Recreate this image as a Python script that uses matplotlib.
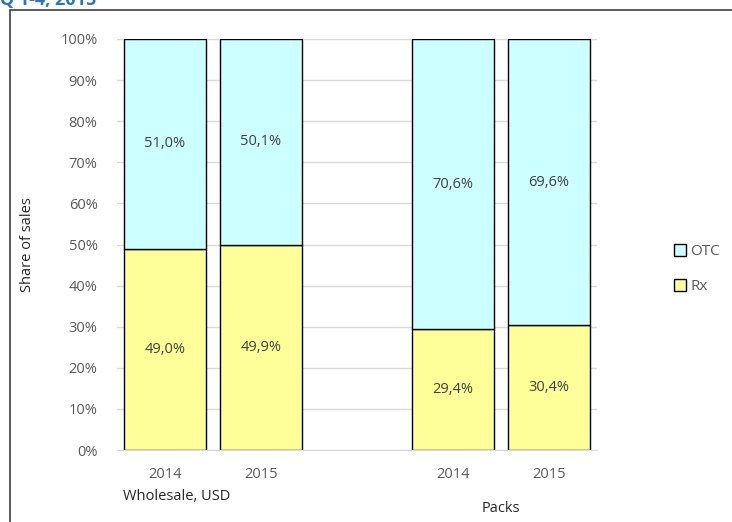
import matplotlib.pyplot as plt
from matplotlib.patches import Rectangle, Patch
from matplotlib.ticker import PercentFormatter

plt.rcParams['font.family'] = ['Open Sans', 'DejaVu Sans']

years = ['2014', '2015', '2014', '2015']
groups = ['Wholesale, USD', 'Packs']
rx = [49.0, 49.9, 29.4, 30.4]
otc = [51.0, 50.1, 70.6, 69.6]
positions = [0, 1, 3, 4]

fig = plt.figure(figsize=(7.32, 5.22), dpi=100)
ax = fig.add_axes([117 / 732, 1 - 450 / 522, 480 / 732, 411 / 522])

# outer frame (partially cropped in the original)
fig.patches.append(Rectangle((10 / 732, -0.1), 1.2, 1 - 10 / 522 + 0.1,
                             transform=fig.transFigure, fill=False,
                             edgecolor='#404040', linewidth=1.2))
# title is cut off at the top edge in the reference
fig.text(0.0, 1 - 5 / 522, 'Q 1-4, 2015', color='#2E75B6', fontsize=13,
         fontweight='bold', ha='left', va='baseline')

rx_frac = [v / 100 for v in rx]
otc_frac = [v / 100 for v in otc]
ax.bar(positions, rx_frac, width=0.855, color='#FFFF99', edgecolor='black',
       linewidth=1, zorder=3)
ax.bar(positions, otc_frac, width=0.855, bottom=rx_frac, color='#CCFFFF',
       edgecolor='black', linewidth=1, zorder=3)

for x, r, o in zip(positions, rx_frac, otc_frac):
    ax.text(x, r / 2, f'{r * 100:.1f}%'.replace('.', ','), ha='center',
            va='center', fontsize=10.5, color='#404040', zorder=4)
    ax.text(x, r + o / 2, f'{o * 100:.1f}%'.replace('.', ','), ha='center',
            va='center', fontsize=10.5, color='#404040', zorder=4)

ax.set_xlim(-0.5, 4.5)
ax.set_ylim(0, 1)
ax.set_yticks([i / 10 for i in range(11)])
ax.yaxis.set_major_formatter(PercentFormatter(1.0, decimals=0))
ax.set_xticks(positions)
ax.set_xticklabels(years)
ax.tick_params(axis='both', length=0, labelsize=10.5, colors='#595959')
ax.tick_params(axis='x', pad=12)
ax.tick_params(axis='y', pad=14)
ax.grid(axis='y', color='#D9D9D9', linewidth=1, zorder=0)
for s in ['top', 'right', 'left']:
    ax.spines[s].set_visible(False)
ax.spines['bottom'].set_color('#D9D9D9')
ax.set_ylabel('Share of sales', fontsize=10.5, color='#262626', labelpad=18)

fig.text(123 / 732, 1 - 497 / 522, groups[0], fontsize=10.5, color='#262626',
         ha='left', va='center')
fig.text(501 / 732, 1 - 509 / 522, groups[1], fontsize=10.5, color='#262626',
         ha='center', va='center')

handles = [Patch(facecolor='#CCFFFF', edgecolor='black', label='OTC'),
           Patch(facecolor='#FFFF99', edgecolor='black', label='Rx')]
fig.legend(handles=handles, loc='center left',
           bbox_to_anchor=(660 / 732, 1 - 269 / 522), frameon=False,
           fontsize=11, handlelength=0.8, handleheight=0.8,
           handletextpad=0.3, labelspacing=1.3, labelcolor='#595959')

fig.savefig('out.png', dpi=100)
